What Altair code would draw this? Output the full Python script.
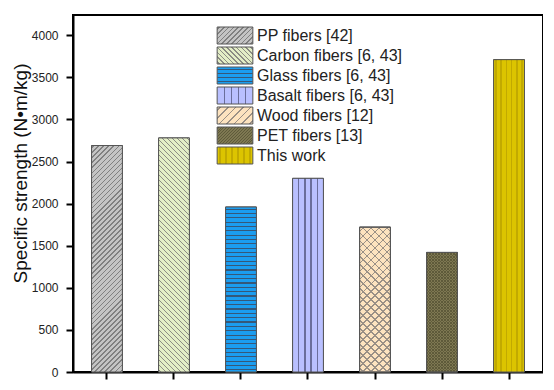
import json
import altair as alt
import pandas as pd

names = ["PP fibers [42]", "Carbon fibers [6, 43]", "Glass fibers [6, 43]",
         "Basalt fibers [6, 43]", "Wood fibers [12]", "PET fibers [13]", "This work"]
values = [2690, 2780, 1960, 2300, 1720, 1420, 3710]
y_ticks = [0, 500, 1000, 1500, 2000, 2500, 3000, 3500, 4000]

df = pd.DataFrame({"name": names, "value": values})

YMAX = 4240
W, H = 470, 357
P_IN, P_OUT = 0.54, 0.277
step = W / (len(names) - P_IN + 2 * P_OUT)
BW = step * (1 - P_IN)
LW, LH = 35.7, 17.0  # legend swatch


def stops(bg, fg, n, frac):
    out = []
    for i in range(n):
        a = (i + 0.5 - frac / 2) / n
        b = (i + 0.5 + frac / 2) / n
        out += [{"offset": round(i / n, 5), "color": bg},
                {"offset": round(a, 5), "color": bg},
                {"offset": round(a, 5), "color": fg},
                {"offset": round(b, 5), "color": fg},
                {"offset": round(b, 5), "color": bg},
                {"offset": round((i + 1) / n, 5), "color": bg}]
    return out


def diag(bg, fg, w, h, spacing, frac, forward=True):
    s = (w + h) / (w * w + h * h)
    n = max(1, round((w + h) / spacing))
    g = {"gradient": "linear", "stops": stops(bg, fg, n, frac)}
    if forward:
        g.update(x1=0, y1=0, x2=round(s * w, 6), y2=round(s * h, 6))
    else:
        g.update(x1=1, y1=0, x2=round(1 - s * w, 6), y2=round(s * h, 6))
    return g


def horiz(bg, fg, h, spacing, frac):
    n = max(1, round(h / spacing))
    return {"gradient": "linear", "stops": stops(bg, fg, n, frac), "x1": 0, "y1": 0, "x2": 0, "y2": 1}


def vert(bg, fg, n, frac):
    return {"gradient": "linear", "stops": stops(bg, fg, n, frac), "x1": 0, "y1": 0, "x2": 1, "y2": 0}


def vert_bound(bg, fg, n, half):
    # lines on the inner boundaries k/n, k=1..n-1
    out = [{"offset": 0, "color": bg}]
    for k in range(1, n):
        c = k / n
        out += [{"offset": round(c - half, 5), "color": bg},
                {"offset": round(c - half, 5), "color": fg},
                {"offset": round(c + half, 5), "color": fg},
                {"offset": round(c + half, 5), "color": bg}]
    out.append({"offset": 1, "color": bg})
    return {"gradient": "linear", "stops": out, "x1": 0, "y1": 0, "x2": 1, "y2": 0}


def fills(i, w, h):
    """return list of gradient layers for style i on a box w x h"""
    if i == 0:
        return [diag("#c4c4c4", "#808080", w, h, 5.0, 0.32, True)]
    if i == 1:
        return [diag("#e3eec6", "#8c8c84", w, h, 5.0, 0.32, False)]
    if i == 2:
        return [horiz("#1b9df0", "#35587a", h, 4.3, 0.26)]
    if i == 3:
        return [vert_bound("#b9c0ff", "#6a6e9c", 5, 0.022)]
    if i == 4:
        return [diag("#fde3bf", "#9a9086", w, h, 8.0, 0.16, True),
                diag("rgba(0,0,0,0)", "#9a9086", w, h, 8.0, 0.16, False)]
    if i == 5:
        return [diag("#7e7852", "#5e5a3a", w, h, 3.0, 0.35, True),
                diag("rgba(0,0,0,0)", "#5e5a3a", w, h, 3.0, 0.35, False)]
    return [vert("#dcc400", "#c2aa00", 6, 0.35)]


legend_fills = [fills(i, LW, LH)[0] for i in range(len(names))]
legend_fills[4] = diag("#fde3bf", "#9a9086", LW, LH, 8.0, 0.25, True)

x_enc = alt.X("name:N", sort=names,
              scale=alt.Scale(paddingInner=P_IN, paddingOuter=P_OUT),
              axis=alt.Axis(title=None, labels=False, ticks=True, tickSize=7, tickWidth=2,
                            tickColor="black", domainColor="black", domainWidth=2, grid=False))
y_enc = alt.Y("value:Q", scale=alt.Scale(domain=[0, YMAX], nice=False),
              axis=alt.Axis(title="Specific strength (N•m/kg)", values=y_ticks, format="d",
                            grid=False,
                            tickSize=7, tickWidth=2, tickColor="black", domainColor="black",
                            domainWidth=2, labelFontSize=12, labelColor="#222",
                            labelFont="Liberation Sans", labelPadding=8,
                            titleFont="Liberation Sans", titleFontSize=19, titleFontWeight="normal",
                            titleColor="#111", titlePadding=1, titleY=158))

base = alt.Chart(df).mark_bar(stroke="#555", strokeWidth=1).encode(
    x=x_enc, y=y_enc,
    fill=alt.Fill("name:N", sort=names,
                  scale=alt.Scale(domain=names, range=[{"expr": json.dumps(g)} for g in legend_fills]),
                  legend=alt.Legend(title=None, orient="none", legendX=153, legendY=11.5,
                                    symbolType="M-2.1,-1H2.1V1H-2.1Z", symbolSize=289,
                                    symbolStrokeColor="#555", symbolStrokeWidth=1,
                                    labelFont="Liberation Sans", labelFontSize=16, labelColor="#222",
                                    labelOffset=13, rowPadding=-2.9, padding=0, labelLimit=400)))

layers = [base]
for i, (n, v) in enumerate(zip(names, values)):
    h = v / YMAX * H
    for g in fills(i, BW, h):
        layers.append(
            alt.Chart(df).transform_filter(alt.datum.name == n)
            .mark_bar(fill=g, stroke="#555", strokeWidth=1)
            .encode(x=x_enc, y=y_enc)
        )

chart = alt.layer(*layers).properties(
    width=W, height=H, padding={"left": 3, "top": 7, "right": 0, "bottom": 0}
).configure_view(stroke="black", strokeWidth=2)

chart.save("out.html", embed_options={"renderer": "svg", "actions": False})
